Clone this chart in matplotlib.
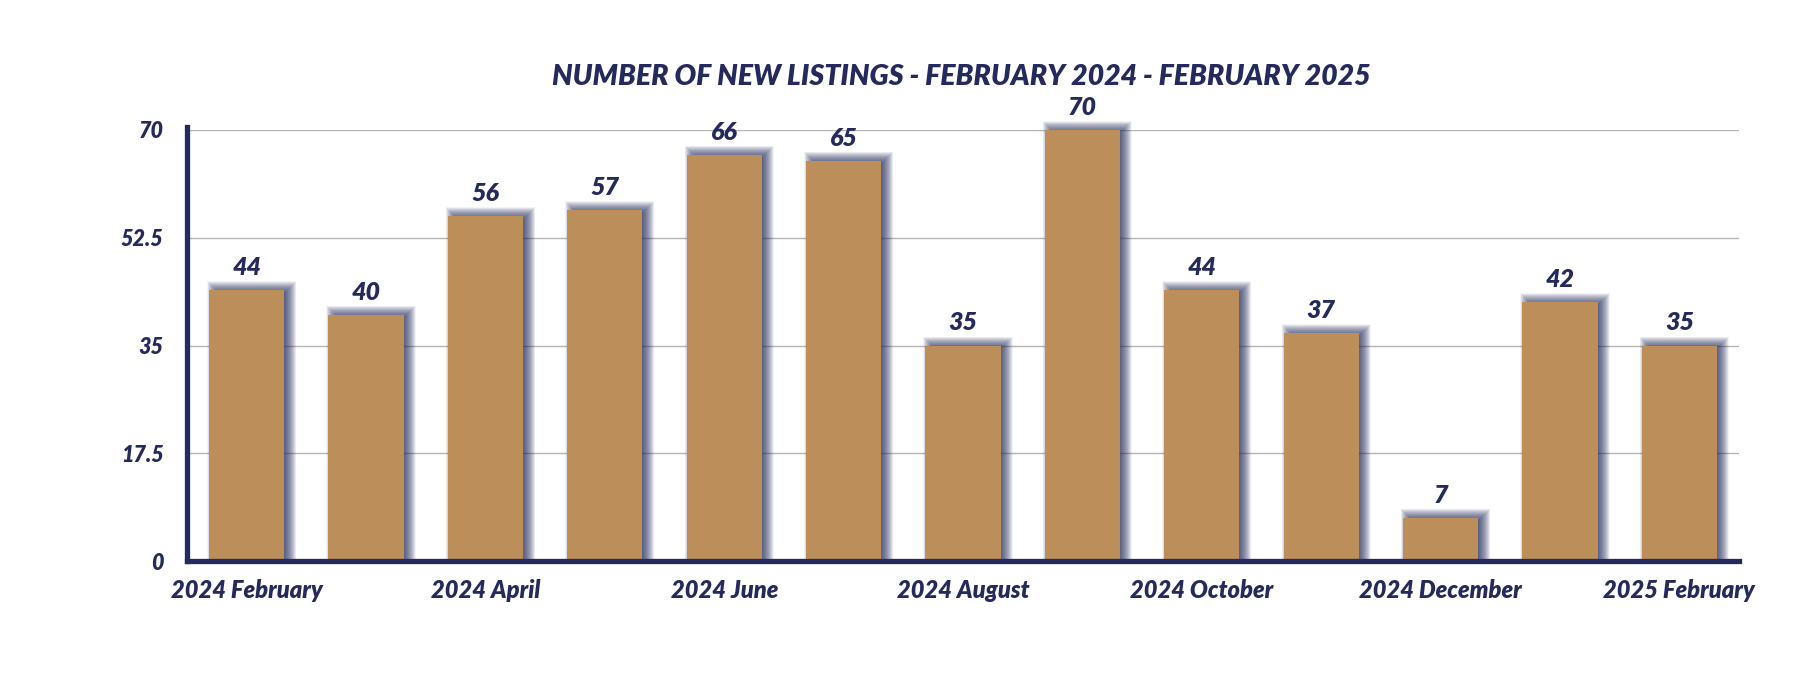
import matplotlib
matplotlib.use('Agg')
import matplotlib.pyplot as plt
import numpy as np

# data
months = ['2024 February', '2024 March', '2024 April', '2024 May', '2024 June',
          '2024 July', '2024 August', '2024 September', '2024 October',
          '2024 November', '2024 December', '2025 January', '2025 February']
listings = [44, 40, 56, 57, 66, 65, 35, 70, 44, 37, 7, 42, 35]
y_ticks = [0, 17.5, 35, 52.5, 70]
y_tick_labels = ['0', '17.5', '35', '52.5', '70']
title = 'NUMBER OF NEW LISTINGS - FEBRUARY 2024 - FEBRUARY 2025'

NAVY = '#252a5c'
GOLD = '#bb8e5a'
GRID = '#b5b5b5'
WEIGHT = 'heavy'

plt.rcParams['font.family'] = ['Lato', 'DejaVu Sans']

fig = plt.figure(figsize=(18.16, 6.76), dpi=100)
ax = fig.add_axes([187 / 1816, 115 / 676, (1739 - 187) / 1816, (561 - 130) / 676])

x = np.arange(len(listings))
vals = np.array(listings, dtype=float)
bw = 0.63

# pixel -> data conversion
px_x = 13 / (1739 - 187)
px_y = 70 / (561 - 130)

# soft drop shadow: many faint stacked rectangles, grown and shrunk
dx, dy = 5 * px_x, 2 * px_y
for e in np.arange(-5, 7.5, 0.5):
    ax.bar(x + dx, vals + dy + e * px_y, width=bw + 2 * e * px_x,
           color=NAVY, alpha=0.05, linewidth=0, zorder=2, clip_on=False)

ax.bar(x, vals, width=bw, color=GOLD, linewidth=0, zorder=3)

for xi, v in zip(x, listings):
    ax.annotate(str(v), (xi, v), xytext=(0, 8), textcoords='offset points',
                ha='center', va='bottom', fontsize=18, fontweight=WEIGHT,
                fontstyle='italic', color=NAVY, zorder=5)

ax.set_xlim(-0.5, len(listings) - 0.5)
ax.set_ylim(0, 70)
ax.set_yticks(y_ticks)
ax.set_yticklabels(y_tick_labels)
ax.set_xticks(x[::2])
ax.set_xticklabels(months[::2])

for lab in ax.get_xticklabels() + ax.get_yticklabels():
    lab.set_fontweight(WEIGHT)
    lab.set_fontstyle('italic')
    lab.set_color(NAVY)
for lab in ax.get_xticklabels():
    lab.set_fontsize(17)
for lab in ax.get_yticklabels():
    lab.set_fontsize(15.5)

ax.tick_params(axis='x', length=0, pad=13)
ax.tick_params(axis='y', length=0, pad=17)

ax.yaxis.grid(True, color=GRID, linewidth=1.0, zorder=0)
ax.set_axisbelow(True)

for s in ['top', 'right']:
    ax.spines[s].set_visible(False)
for s in ['left', 'bottom']:
    ax.spines[s].set_color(NAVY)
    ax.spines[s].set_linewidth(3.8)
    ax.spines[s].set_zorder(6)
ax.spines['left'].set_bounds(0, 70.5)

fig.text(961 / 1816, 1 - 77 / 676, title, ha='center', va='center',
         fontsize=20.5, fontweight=WEIGHT, fontstyle='italic', color=NAVY)

fig.savefig('out.png', dpi=100, facecolor='white')
